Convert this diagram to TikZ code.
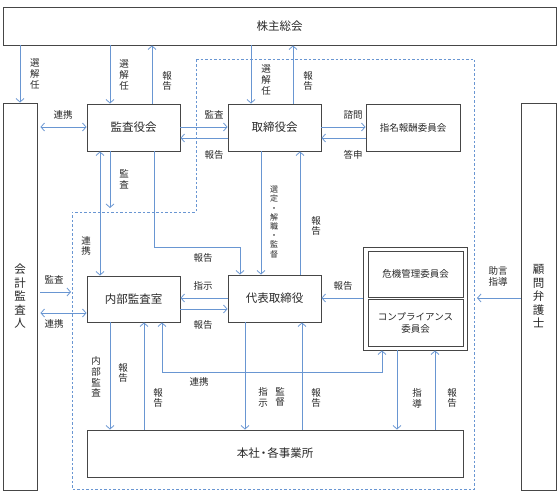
\documentclass[tikz,border=0pt]{standalone}
\usepackage{fontspec}
\setmainfont{Noto Sans CJK JP}
\usetikzlibrary{arrows.meta}
\definecolor{lineblue}{RGB}{105,150,210}
\definecolor{boxgray}{RGB}{70,70,70}
\definecolor{textgray}{RGB}{40,40,40}
\begin{document}
\begin{tikzpicture}[x=1pt,y=-1pt,
  box/.style={draw=boxgray,line width=0.9pt,inner sep=0pt,text=textgray,
    font=\fontsize{11.5}{13.5}\selectfont,align=center},
  smallbox/.style={box,font=\fontsize{9.5}{12}\selectfont},
  lbl/.style={inner sep=0pt,text=textgray,align=center,
    font=\fontsize{9.5}{10.8}\selectfont},
  tinylbl/.style={lbl,font=\fontsize{8}{9.2}\selectfont},
  arr/.style={draw=lineblue,line width=0.8pt,-{Straight Barb[length=3.5pt,width=8pt]}},
  darr/.style={arr,{Straight Barb[length=3.5pt,width=8pt]}-{Straight Barb[length=3.5pt,width=8pt]}},
  area/.style={draw=lineblue,line width=0.8pt,dash pattern=on 2.5pt off 2pt}]
\useasboundingbox (0,0) rectangle (560,497);

% execution area
\draw[area] (196,59) -- (474,59) -- (474,489) -- (72,489) -- (72,212) -- (196,212) -- cycle;

% boxes
\node[box,minimum width=553pt,minimum height=38pt] (sh) at (279.5,26) {株主総会};
\node[box,minimum width=34pt,minimum height=387pt] (kaikei) at (20,296.5) {会\\計\\監\\査\\人};
\node[box,minimum width=35pt,minimum height=387pt] (komon) at (538.5,296.5) {顧\\問\\弁\\護\\士};
\node[box,minimum width=93pt,minimum height=47pt] (kansa) at (133.5,127.5) {監査役会};
\node[box,minimum width=93pt,minimum height=47pt] (tori) at (274.5,127.5) {取締役会};
\node[smallbox,minimum width=94pt,minimum height=47pt] (shimei) at (413,127.5) {指名報酬委員会};
\node[box,minimum width=93pt,minimum height=46pt] (naibu) at (133.5,299) {内部監査室};
\node[box,minimum width=93pt,minimum height=47pt] (daihyo) at (274.5,298.5) {代表取締役};
\node[box,minimum width=104pt,minimum height=103pt] (risk) at (415,298.5) {};
\node[smallbox,minimum width=95pt,minimum height=46pt] (kiki) at (415.5,274) {危機管理委員会};
\node[smallbox,minimum width=95pt,minimum height=47pt] (comp) at (415.5,322.5) {コンプライアンス\\委員会};
\node[box,minimum width=376pt,minimum height=47pt] (honsha) at (275,453.5) {本社\kern-2pt・\kern-2pt 各事業所};

% shareholders
\draw[arr] (sh.south -| kaikei.north) -- (kaikei.north);
\node[lbl] (l1) at (35,74) {選\\解\\任};
\draw[arr] (sh.south -| 110,0) -- (kansa.north -| 110,0);
\node[lbl] (l2) at (124,75) {選\\解\\任};
\draw[arr] (kansa.north -| 152,0) -- (sh.south -| 152,0);
\node[lbl] (l3) at (167,81) {報\\告};
\draw[arr] (sh.south -| 251,0) -- (tori.north -| 251,0);
\node[lbl] (l4) at (266,80) {選\\解\\任};
\draw[arr] (tori.north -| 293,0) -- (sh.south -| 293,0);
\node[lbl] (l5) at (308,81) {報\\告};

% board level
\draw[darr,shorten <=3pt] (kaikei.east |- 0,127) -- (kansa.west |- 0,127);
\node[lbl] (l6) at (63,115) {連携};
\draw[arr] (kansa.east |- 0,127) -- (tori.west |- 0,127);
\node[lbl] (l7) at (214,115) {監査};
\draw[arr] (tori.west |- 0,138) -- (kansa.east |- 0,138);
\node[lbl] (l8) at (214,155) {報告};
\draw[arr] (tori.east |- 0,127) -- (shimei.west |- 0,127);
\node[lbl] (l9) at (353,115) {諮問};
\draw[arr] (shimei.west |- 0,138) -- (tori.east |- 0,138);
\node[lbl] (l10) at (353,155) {答申};

% audit board downwards
\coordinate (kansaEnd) at (110,208);
\draw[arr] (kansa.south -| 110,0) -- (kansaEnd);
\node[lbl] (l11) at (124,179) {監\\査};
\draw[darr] (kansa.south -| 100,0) -- (naibu.north -| 100,0);
\node[lbl] (l12) at (86,246) {連\\携};
\draw[arr] (kansa.south -| 154,0) -- (154,247) -| (daihyo.north -| 240,0);
\node[lbl] (l13) at (203,258) {報告};

% board and representative director
\draw[arr] (tori.south -| 261,0) -- (daihyo.north -| 261,0);
\node[tinylbl] (l14) at (274,222) {選\\定\\・\\解\\職\\・\\監\\督};
\draw[arr] (daihyo.north -| 300,0) -- (tori.south -| 300,0);
\node[lbl] (l15) at (316,226) {報\\告};
\draw[arr] (daihyo.west |- 0,298) -- (naibu.east |- 0,298);
\node[lbl] (l16) at (203,286) {指示};
\draw[arr] (naibu.east |- 0,309) -- (daihyo.west |- 0,309);
\node[lbl] (l17) at (203,325) {報告};

% accounting auditor
\coordinate (kaikeiEnd) at (71,292);
\draw[arr,shorten <=3pt] (kaikei.east |- 0,292) -- (kaikeiEnd);
\node[lbl] (l18) at (54,280) {監査};
\draw[darr,shorten <=3pt] (kaikei.east |- 0,313) -- (naibu.west |- 0,313);
\node[lbl] (l19) at (54,324) {連携};

% committees and lawyer
\draw[arr] (risk.west |- 0,298) -- (daihyo.east |- 0,298);
\node[lbl] (l20) at (343,286) {報告};
\coordinate (komonEnd) at (477,298);
\draw[arr] (komon.west |- 0,298) -- (komonEnd);
\node[lbl] (l21) at (498,276) {助言\\指導};

% head office
\draw[arr] (naibu.south -| 110,0) -- (honsha.north -| 110,0);
\node[lbl] (l22) at (96,377) {内\\部\\監\\査};
\node[lbl] (l23) at (123,373) {報\\告};
\draw[arr] (honsha.north -| 144,0) -- (naibu.south -| 144,0);
\node[lbl] (l24) at (158,398) {報\\告};
\draw[darr] (naibu.south -| 162,0) -- (162,372) -| (risk.south -| 382,0);
\node[lbl] (l25) at (199,382) {連携};
\draw[arr] (daihyo.south -| 245,0) -- (honsha.north -| 245,0);
\node[lbl] (l26) at (263,397) {指\\示};
\node[lbl] (l27) at (280,397) {監\\督};
\draw[arr] (honsha.north -| 302,0) -- (daihyo.south -| 302,0);
\node[lbl] (l28) at (316,398) {報\\告};
\draw[arr] (risk.south -| 397,0) -- (honsha.north -| 397,0);
\node[lbl] (l29) at (417,398) {指\\導};
\draw[arr] (honsha.north -| 435,0) -- (risk.south -| 435,0);
\node[lbl] (l30) at (452,398) {報\\告};
\end{tikzpicture}
\end{document}
